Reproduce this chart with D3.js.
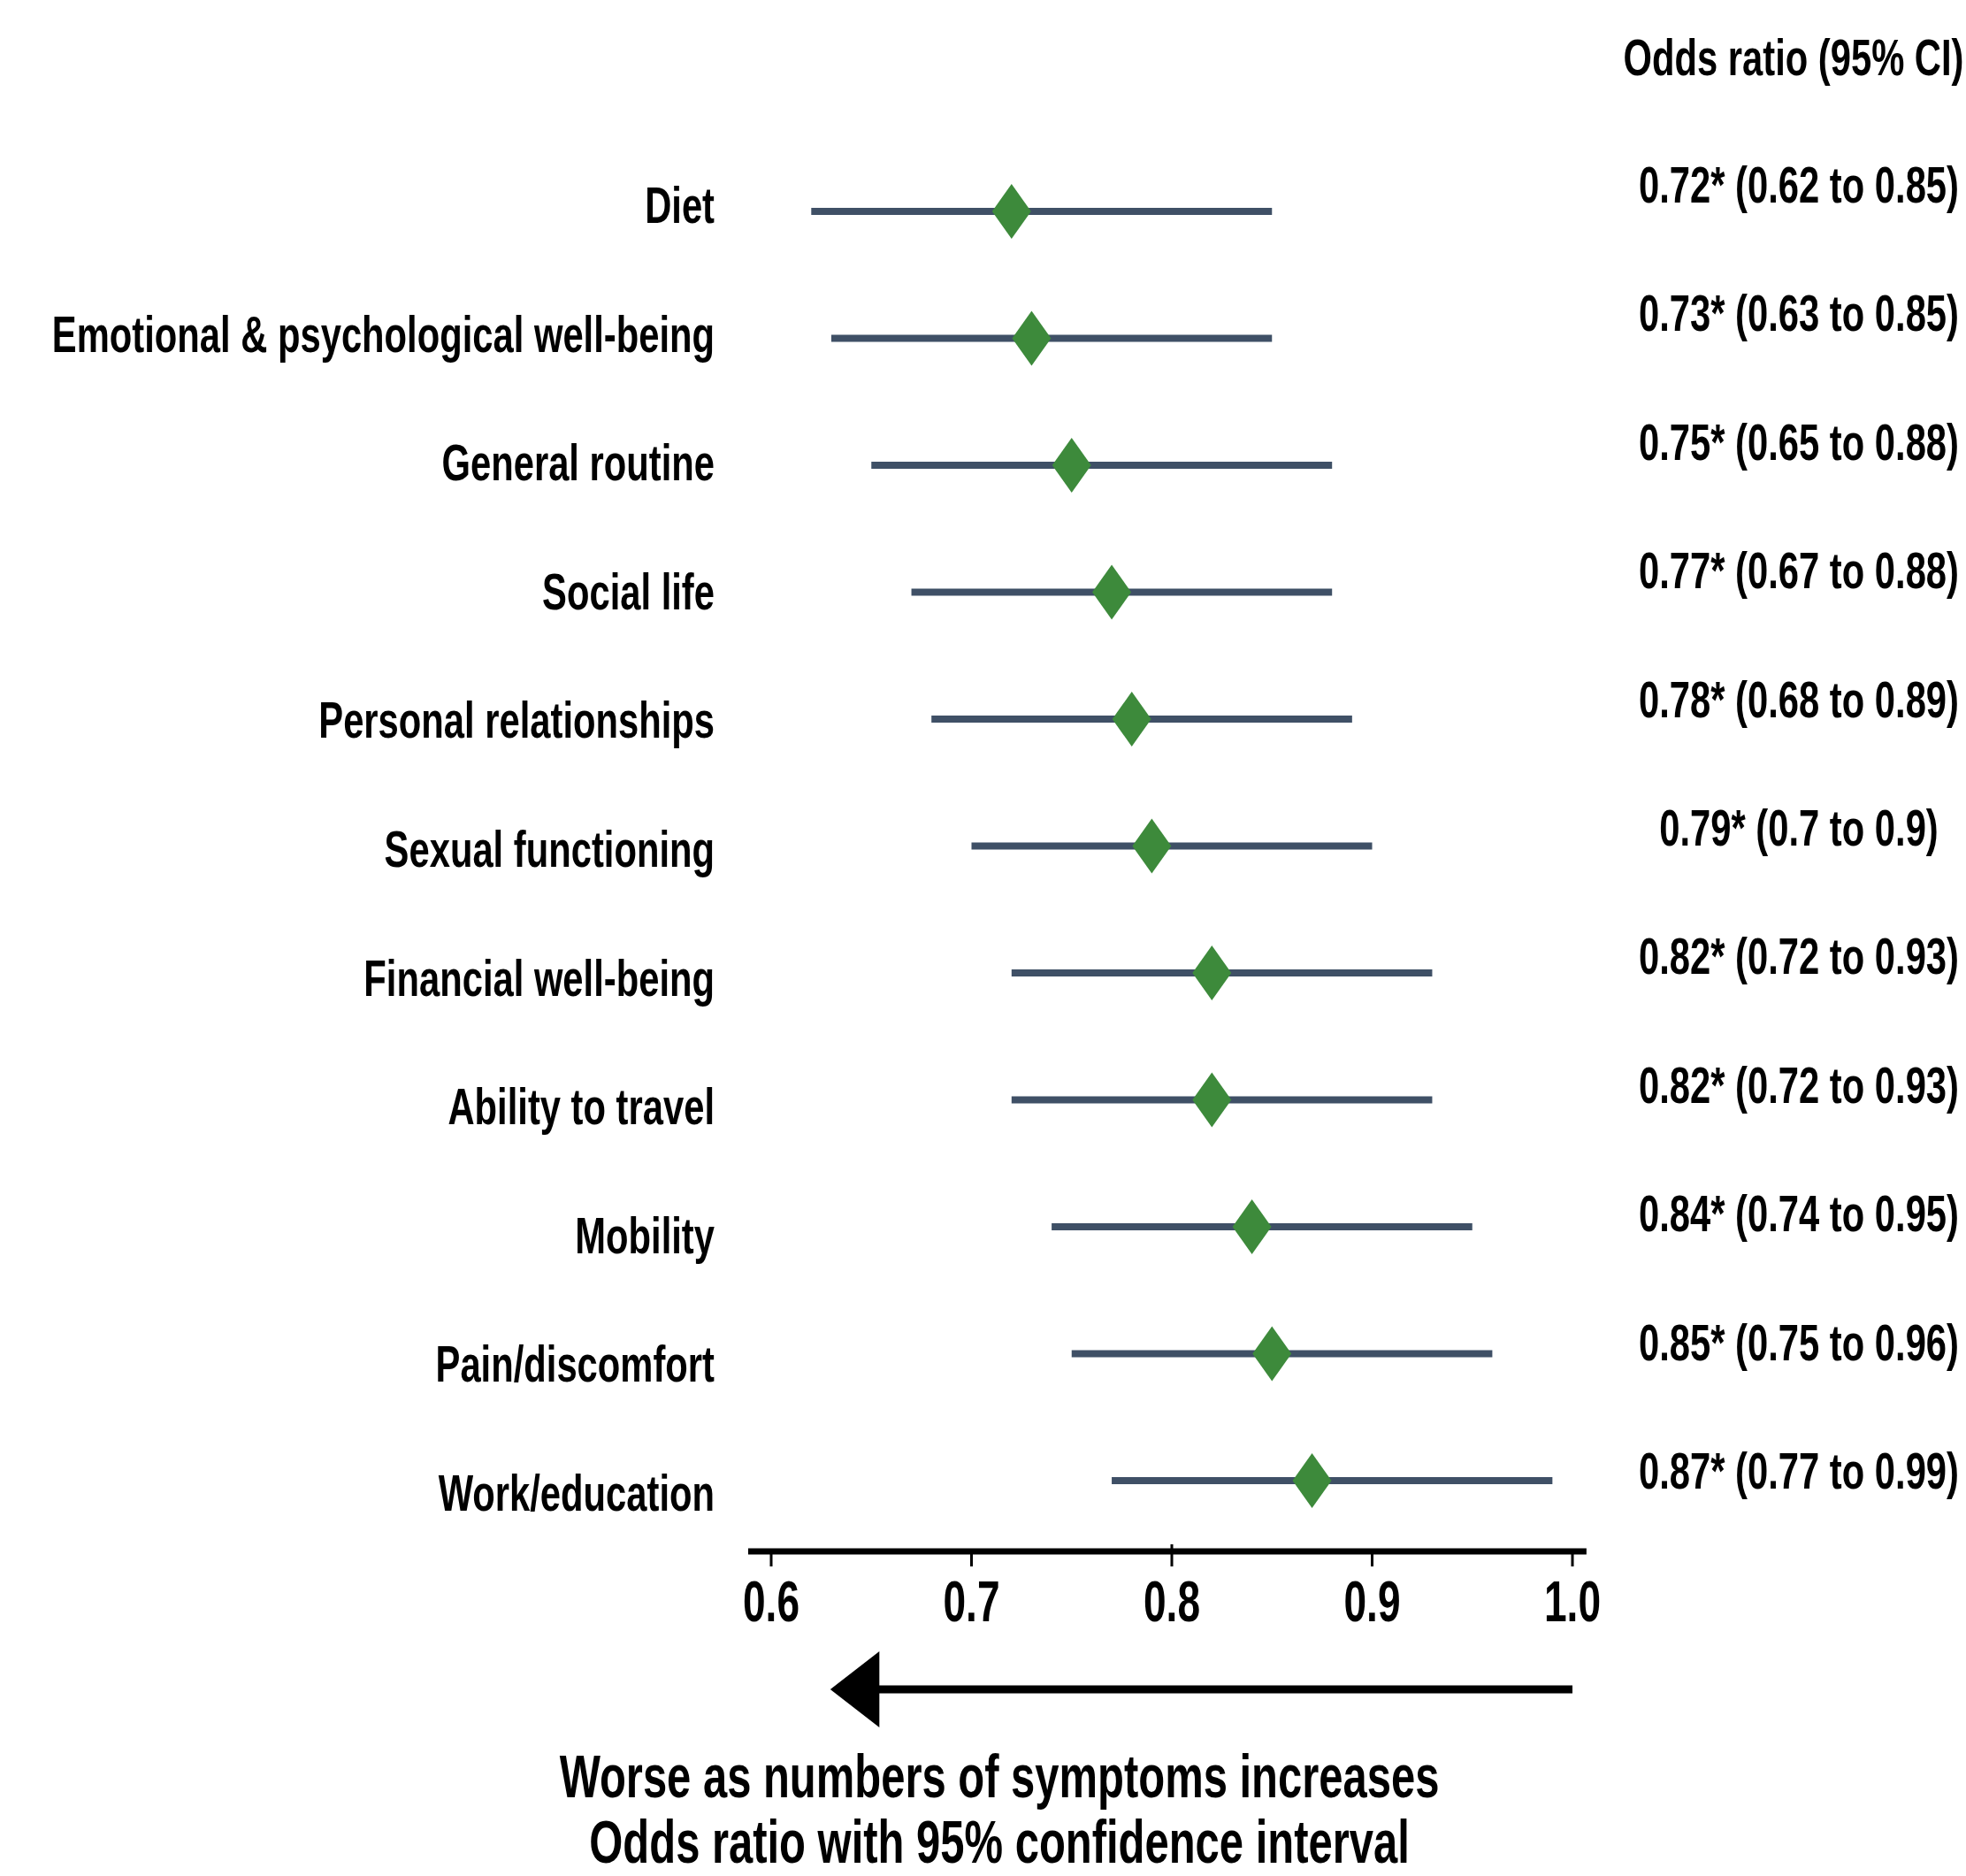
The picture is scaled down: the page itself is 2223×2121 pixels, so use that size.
<!DOCTYPE html>
<html>
<head>
<meta charset="utf-8">
<script src="https://cdn.jsdelivr.net/npm/d3@7"></script>
<style>
  body { margin: 0; background: #fff; }
  text { font-family: "Liberation Sans", Arial, sans-serif; font-weight: bold; fill: #000; }
</style>
</head>
<body>
<script>
// dados
var categorias = ["Diet", "Emotional & psychological well-being", "General routine", "Social life",
  "Personal relationships", "Sexual functioning", "Financial well-being", "Ability to travel",
  "Mobility", "Pain/discomfort", "Work/education"];
var oddsRatio = [0.72, 0.73, 0.75, 0.77, 0.78, 0.79, 0.82, 0.82, 0.84, 0.85, 0.87];
var icInferior = [0.62, 0.63, 0.65, 0.67, 0.68, 0.70, 0.72, 0.72, 0.74, 0.75, 0.77];
var icSuperior = [0.85, 0.85, 0.88, 0.88, 0.89, 0.90, 0.93, 0.93, 0.95, 0.96, 0.99];
var ticks = [0.6, 0.7, 0.8, 0.9, 1.0];

var largura = 2223, altura = 2121;
var sx = 0.72; // texto condensado

var svg = d3.select("body").append("svg")
  .attr("width", largura)
  .attr("height", altura);

svg.append("rect").attr("width", largura).attr("height", altura).attr("fill", "#fff");

var escalaX = d3.scaleLinear()
  .domain([0.6, 1.0])
  .range([872, 1778]);

var escalaLinha = d3.scalePoint().domain(categorias).range([239, 1674]);
var escalaRotulo = d3.scalePoint().domain(categorias).range([231, 1687]);
var escalaTexto = d3.scalePoint().domain(categorias).range([208, 1662]);

function texto(x, y, str, tamanho, ancora) {
  return svg.append("g")
    .attr("transform", "translate(" + x + "," + y + ") scale(" + sx + ",1)")
    .append("text")
    .attr("font-size", tamanho)
    .attr("text-anchor", ancora)
    .text(str);
}

var dados = categorias.map(function(c, i) {
  return { nome: c, or: oddsRatio[i], lo: icInferior[i], hi: icSuperior[i] };
});

// cabecalho
texto(2028, 85, "Odds ratio (95% CI)", 58, "middle");

// rotulos
dados.forEach(function(d) {
  texto(808, escalaRotulo(d.nome) + 21, d.nome, 58, "end");
  texto(2034, escalaTexto(d.nome) + 21, d.or + "* (" + d.lo + " to " + d.hi + ")", 58, "middle");
});

// intervalos
svg.selectAll(".ic")
  .data(dados)
  .enter()
  .append("line")
  .attr("x1", d => escalaX(d.lo))
  .attr("x2", d => escalaX(d.hi))
  .attr("y1", d => escalaLinha(d.nome))
  .attr("y2", d => escalaLinha(d.nome))
  .attr("stroke", "#3f5066")
  .attr("stroke-width", 8);

// losangos
svg.selectAll(".diamante")
  .data(dados)
  .enter()
  .append("path")
  .attr("d", function(d) {
    var x = escalaX(d.or), y = escalaLinha(d.nome);
    return "M" + (x - 22) + "," + y + "L" + x + "," + (y - 31) + "L" + (x + 22) + "," + y + "L" + x + "," + (y + 31) + "Z";
  })
  .attr("fill", "#3d8a3b");

// eixo
var yEixo = 1754;
svg.append("line")
  .attr("x1", escalaX(0.5885)).attr("x2", escalaX(1.007))
  .attr("y1", yEixo).attr("y2", yEixo)
  .attr("stroke", "#000").attr("stroke-width", 7);

svg.selectAll(".tick")
  .data(ticks)
  .enter()
  .append("line")
  .attr("x1", d => escalaX(d)).attr("x2", d => escalaX(d))
  .attr("y1", d => d === 0.8 ? yEixo - 8 : yEixo)
  .attr("y2", yEixo + 17)
  .attr("stroke", "#000").attr("stroke-width", 3);

ticks.forEach(function(t) {
  texto(escalaX(t), 1833, d3.format(".1f")(t), 64, "middle");
});

// seta
var ySeta = 1910;
svg.append("line")
  .attr("x1", escalaX(1.0)).attr("x2", escalaX(0.65))
  .attr("y1", ySeta).attr("y2", ySeta)
  .attr("stroke", "#000").attr("stroke-width", 9);
svg.append("path")
  .attr("d", "M" + escalaX(0.6295) + "," + ySeta + "L" + escalaX(0.654) + "," + (ySeta - 43) +
             "L" + escalaX(0.654) + "," + (ySeta + 43) + "Z")
  .attr("fill", "#000");

// titulos
texto(1130, 2032, "Worse as numbers of symptoms increases", 68, "middle");
texto(1130, 2106, "Odds ratio with 95% confidence interval", 68, "middle");
</script>
</body>
</html>
